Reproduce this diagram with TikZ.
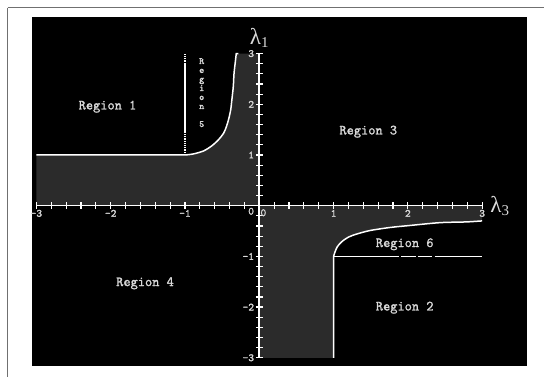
\documentclass[tikz,border=0pt]{standalone}
\usepackage{fontspec}
\newfontfamily\greekserif{Liberation Serif}
\newfontfamily\plotmono[FakeBold=1.4]{Latin Modern Mono}
\usetikzlibrary{positioning}
\definecolor{bandgray}{HTML}{2B2B2B}
\definecolor{labelgray}{HTML}{DADADA}
\definecolor{framegray}{HTML}{707070}
\tikzstyle{axisline}=[draw=white,line width=1.6pt]
\tikzstyle{bound}=[draw=white,line width=1.5pt]
\tikzstyle{region}=[text=labelgray,font=\fontsize{14}{16}\selectfont\plotmono\bfseries,inner sep=0pt]
\tikzstyle{ticklab}=[text=labelgray,font=\fontsize{11}{12}\selectfont\plotmono\bfseries,inner sep=0pt]
\tikzstyle{axislab}=[text=labelgray,font=\fontsize{23}{25}\selectfont\greekserif,inner sep=0pt]
\newcommand{\lam}[1]{λ\raisebox{-3pt}{\fontsize{15}{16}\selectfont #1}}

\begin{document}
\begin{tikzpicture}[x=74.3pt,y=50.7pt]
  \useasboundingbox (-3.490,-3.379) rectangle (3.832,4.057);
  % frame and plot area
  \draw[framegray,line width=1.8pt] (-3.389,3.909) -- (3.832,3.909);
  \draw[framegray,line width=1.8pt] (-3.389,3.909) -- (-3.389,-3.379);
  \fill[black] (-3.059,-3.162) rectangle (3.603,3.722);

  % shaded bands
  \fill[bandgray] (-3,0) -- (-3,1) -- (-1,1) -- plot[smooth] coordinates {(-1,1) (-0.89,1.02) (-0.75,1.08) (-0.64,1.18) (-0.55,1.30) (-0.48,1.43) (-0.44,1.57) (-0.41,1.72) (-0.385,1.89) (-0.37,2.08) (-0.35,2.35) (-0.34,2.61) (-0.32,2.87) (-0.31,3)} -- (0,3) -- (0,0) -- cycle;
  \fill[bandgray] (0,-3) -- (1,-3) -- (1,-1) -- plot[smooth] coordinates {(1,-1) (1.02,-0.91) (1.05,-0.81) (1.11,-0.71) (1.2,-0.62) (1.31,-0.56) (1.49,-0.49) (1.76,-0.43) (2.03,-0.39) (2.43,-0.335) (2.79,-0.32) (3,-0.30)} -- (3,0) -- (0,0) -- cycle;

  % boundaries
  \draw[bound] (-3,1) -- (-1,1) -- plot[smooth] coordinates {(-1,1) (-0.89,1.02) (-0.75,1.08) (-0.64,1.18) (-0.55,1.30) (-0.48,1.43) (-0.44,1.57) (-0.41,1.72) (-0.385,1.89) (-0.37,2.08) (-0.35,2.35) (-0.34,2.61) (-0.32,2.87) (-0.31,3)} -- (-0.28,3);
  \draw[bound] (1,-3) -- (1,-1) -- plot[smooth] coordinates {(1,-1) (1.02,-0.91) (1.05,-0.81) (1.11,-0.71) (1.2,-0.62) (1.31,-0.56) (1.49,-0.49) (1.76,-0.43) (2.03,-0.39) (2.43,-0.335) (2.79,-0.32) (3,-0.30)};
  \draw[bound,line width=1.2pt,densely dotted] (-1,1) -- (-1,1.43);
  \draw[bound,line width=1.2pt] (-1,1.43) -- (-1,2.8);
  \draw[bound,line width=1.2pt,densely dotted] (-1,2.8) -- (-1,3);
  \draw[bound] (1,-1) -- (1.88,-1) (1.91,-1) -- (2.11,-1) (2.14,-1) -- (2.33,-1) (2.36,-1) -- (3,-1);

  % axes
  \coordinate (xstart) at (-3,0);
  \coordinate (xend) at (3,0);
  \coordinate (ystart) at (0,-3);
  \coordinate (yend) at (0,3);
  \draw[axisline] (xstart) -- (xend);
  \draw[axisline] (ystart) -- (yend);
  \foreach \t in {-3,-2.8,...,3.05} {
    \draw[white,line width=1.2pt] (\t,0) ++(0,3.5pt) -- ++(0,-7pt);
    \draw[white,line width=1.2pt] (0,\t) ++(3.5pt,0) -- ++(-7pt,0);
  }
  \foreach \v [count=\i] in {-3,-2,-1,1,2,3} {
    \coordinate (xtick\i) at (\v,0);
    \coordinate (ytick\i) at (0,\v);
    \node[ticklab, below=4pt of xtick\i] (xlab\i) {\v};
    \node[ticklab, left=5pt of ytick\i] (ylab\i) {\v};
  }
  \node[ticklab] (xzero) at (0.055,-0.14) {0};
  \node[ticklab] (yzero) at (-0.11,-0.11) {0};
  \node[axislab, right=8pt of xend] (lamthree) {\lam{3}};
  \node[axislab, above=6pt of yend] (lamone) {\lam{1}};

  % region labels
  \node[region] (reg1) at (-2.043,1.953) {Region 1};
  \node[region] (reg2) at (1.957,-2.012) {Region 2};
  \node[region] (reg3) at (1.467,1.460) {Region 3};
  \node[region] (reg4) at (-1.538,-1.531) {Region 4};
  \node[region, font=\fontsize{9.5}{9}\selectfont\plotmono, align=center] (reg5) at (-0.775,2.23) {R\\e\\g\\i\\o\\n\\[9pt]5};
  \node[region] (reg6) at (1.957,-0.761) {Region 6};
\end{tikzpicture}
\end{document}
